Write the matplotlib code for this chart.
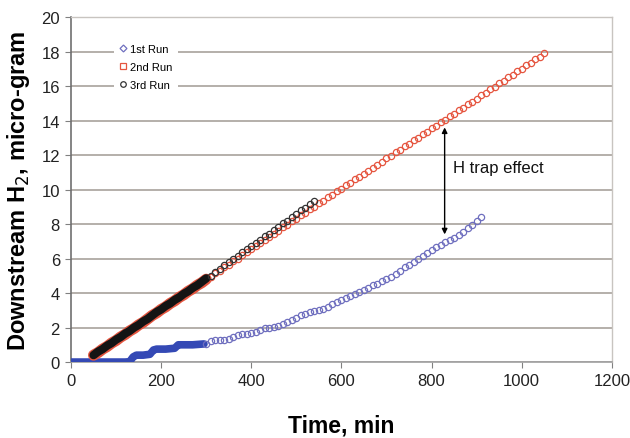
import numpy as np
import matplotlib
matplotlib.use('Agg')
import matplotlib.pyplot as plt
from matplotlib.lines import Line2D

plt.rcParams['font.family'] = ['Liberation Sans', 'DejaVu Sans']

# ---- data ----
# 1st run: early stepwise part (dense logging) and later sparse points
run1_dense_t = [0, 20, 40, 60, 80, 100, 120, 130, 138, 145, 160, 175, 183, 190,
                210, 230, 238, 245, 270, 295]
run1_dense_y = [0.0, 0.0, 0.0, 0.0, 0.0, 0.0, 0.0, 0.02, 0.3, 0.4, 0.4, 0.45, 0.7, 0.75,
                0.75, 0.8, 1.0, 1.0, 1.0, 1.05]
run1_t = np.arange(300, 911, 10)
run1_y = [1.05, 1.2, 1.25, 1.3, 1.3, 1.35, 1.45, 1.55, 1.65, 1.65,
          1.7, 1.75, 1.85, 1.95, 2.0, 2.05, 2.1, 2.2, 2.35, 2.45,
          2.55, 2.7, 2.8, 2.9, 2.95, 3.0, 3.1, 3.2, 3.35, 3.5,
          3.6, 3.7, 3.85, 3.95, 4.05, 4.2, 4.3, 4.45, 4.55, 4.7,
          4.8, 4.95, 5.1, 5.3, 5.5, 5.65, 5.8, 6.0, 6.15, 6.3,
          6.5, 6.65, 6.8, 6.95, 7.05, 7.2, 7.35, 7.55, 7.75, 7.95,
          8.15, 8.4]

run2_t = np.arange(50, 1051, 10)
run2_y = [0.4, 0.55, 0.75, 0.9, 1.1, 1.25, 1.45, 1.6, 1.8, 1.95,
          2.15, 2.3, 2.5, 2.7, 2.85, 3.05, 3.2, 3.4, 3.55, 3.75,
          3.9, 4.1, 4.25, 4.45, 4.6, 4.8, 4.95, 5.15, 5.3, 5.5,
          5.65, 5.85, 6.0, 6.2, 6.4, 6.55, 6.75, 6.9, 7.1, 7.25,
          7.45, 7.6, 7.8, 7.95, 8.15, 8.3, 8.5, 8.65, 8.85, 9.0,
          9.2, 9.35, 9.55, 9.7, 9.9, 10.05, 10.25, 10.4, 10.6, 10.75,
          10.9, 11.1, 11.25, 11.45, 11.6, 11.8, 11.95, 12.15, 12.3, 12.5,
          12.65, 12.85, 13.0, 13.2, 13.35, 13.55, 13.7, 13.9, 14.05, 14.25,
          14.4, 14.6, 14.75, 14.95, 15.1, 15.25, 15.45, 15.6, 15.8, 15.95,
          16.15, 16.3, 16.5, 16.65, 16.85, 17.0, 17.2, 17.35, 17.55, 17.7,
          17.9]

run3_t = np.arange(50, 546, 10)
run3_y = [0.4, 0.6, 0.75, 0.95, 1.1, 1.3, 1.45, 1.65, 1.8, 2.0,
          2.15, 2.35, 2.5, 2.7, 2.9, 3.05, 3.25, 3.4, 3.6, 3.75,
          3.95, 4.1, 4.3, 4.45, 4.65, 4.85, 5.0, 5.2, 5.4, 5.6,
          5.8, 5.95, 6.15, 6.35, 6.55, 6.7, 6.9, 7.1, 7.3, 7.45,
          7.65, 7.85, 8.05, 8.2, 8.4, 8.6, 8.8, 8.95, 9.15, 9.35]

labels = ['1st Run', '2nd Run', '3rd Run']
dense_end = 305  # logging was dense up to about here

c_blue = '#6f6fbf'
c_blue_dense = '#3449b5'
c_red = '#e5553f'
c_black = '#141414'

fig = plt.figure(figsize=(6.3, 4.39), dpi=100)
ax = fig.add_axes([0.1127, 0.173, 0.8585, 0.786])

ax.grid(axis='y', color='#a8a29c', linewidth=1.2, zorder=0)
ax.set_axisbelow(True)

t2 = np.array(run2_t); y2 = np.array(run2_y)
t3 = np.array(run3_t); y3 = np.array(run3_y)
m2 = t2 <= dense_end
m3 = t3 <= dense_end

# dense early segments drawn as thick bands
ax.plot(run1_dense_t, run1_dense_y, color=c_blue_dense, lw=5.5, solid_capstyle='round', zorder=3)
ax.plot(t2[m2], y2[m2], color=c_red, lw=8, solid_capstyle='round', zorder=3)
ax.plot(t3[m3], y3[m3], color=c_black, lw=6, solid_capstyle='round', zorder=4)

# sparse markers
ms = 4.5
ax.plot(run1_t, run1_y, 'o', ms=ms, mfc='none', mec=c_blue, mew=0.9, zorder=3)
ax.plot(t2[~m2], y2[~m2], 'o', ms=ms, mfc='none', mec=c_red, mew=0.9, zorder=3)
ax.plot(t3[~m3], y3[~m3], 'o', ms=ms, mfc='none', mec='#333333', mew=0.9, zorder=4)

# H trap annotation
ax.annotate('', xy=(829, 13.6), xytext=(829, 7.4),
            arrowprops=dict(arrowstyle='<|-|>', color='black', lw=1.0,
                            mutation_scale=8, shrinkA=0, shrinkB=0), zorder=5)
ax.text(847, 11.3, 'H trap effect', fontsize=12, va='center', ha='left', color='#111111')

ax.set_xlim(0, 1200)
ax.set_ylim(0, 20)
ax.set_xticks(np.arange(0, 1201, 200))
ax.set_yticks(np.arange(0, 21, 2))
ax.tick_params(labelsize=12, direction='out', length=4, color='#808080',
               labelcolor='#222222', pad=4)

for side in ['top', 'right']:
    ax.spines[side].set_color('#c8c4c0')
    ax.spines[side].set_linewidth(1.0)
ax.spines['left'].set_color('#707070')
ax.spines['bottom'].set_color('#a0a0a0')
ax.spines['left'].set_linewidth(1.2)
ax.spines['bottom'].set_linewidth(1.2)

ax.set_xlabel('Time, min', fontsize=16.5, fontweight='bold', labelpad=18)
ax.set_ylabel('Downstream H$_2$, micro-gram', fontsize=17, fontweight='bold', labelpad=7)

handles = [
    Line2D([], [], ls='none', marker='D', ms=3.5, mfc='none', mec=c_blue, mew=0.9),
    Line2D([], [], ls='none', marker='s', ms=4, mfc='none', mec=c_red, mew=0.9),
    Line2D([], [], ls='none', marker='o', ms=4, mfc='none', mec='#333333', mew=0.9),
]
leg = ax.legend(handles, labels, loc='upper left', bbox_to_anchor=(0.07, 0.955),
                fontsize=8, frameon=True, framealpha=1, edgecolor='white',
                handlelength=0.6, handletextpad=0.3, labelspacing=0.75,
                borderpad=0.5, fancybox=False)
leg.get_frame().set_linewidth(0)

fig.savefig('out.png', dpi=100)
